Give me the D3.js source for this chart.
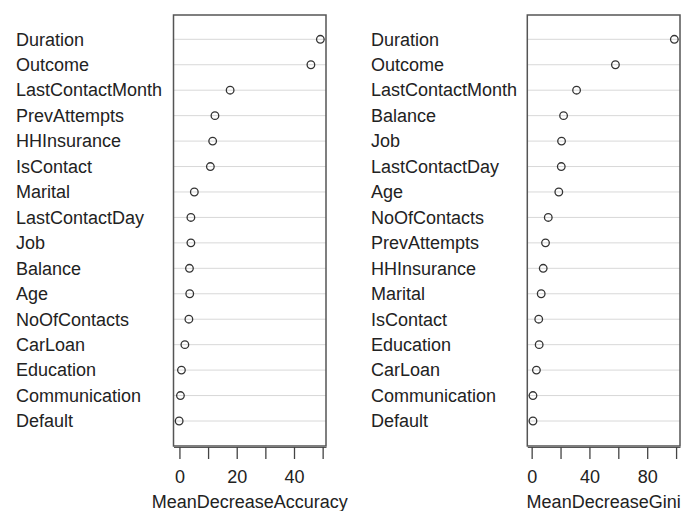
<!DOCTYPE html>
<meta charset="utf-8">
<style>
body { margin: 0; background: #fff; }
text { font-family: "Liberation Sans", Arial, sans-serif; fill: #222; }
</style>
<svg width="691" height="511"></svg>
<script src="https://d3js.org/d3.v7.min.js"></script>
<script>

// variable importance (top to bottom)
var accNames = ["Duration", "Outcome", "LastContactMonth", "PrevAttempts", "HHInsurance", "IsContact",
  "Marital", "LastContactDay", "Job", "Balance", "Age", "NoOfContacts", "CarLoan", "Education",
  "Communication", "Default"];
var accValues = [49.2, 45.9, 17.7, 12.4, 11.6, 10.8, 5.2, 4.0, 4.0, 3.5, 3.6, 3.3, 1.9, 0.7, 0.35, -0.1];

var giniNames = ["Duration", "Outcome", "LastContactMonth", "Balance", "Job", "LastContactDay", "Age",
  "NoOfContacts", "PrevAttempts", "HHInsurance", "Marital", "IsContact", "Education", "CarLoan",
  "Communication", "Default"];
var giniValues = [98.8, 58.0, 31.1, 22.1, 20.7, 20.5, 18.8, 11.5, 9.6, 8.0, 6.6, 4.9, 5.2, 3.3, 0.9, 0.9];

var accTicks = [0, 10, 20, 30, 40, 50], accLabels = [0, 20, 40];
var giniTicks = [0, 20, 40, 60, 80, 100], giniLabels = [0, 40, 80];

var svg = d3.select("svg");
var boxTop = 15, boxBottom = 446;

function panel(names, values, ticks, labels, title, textX, boxL, boxR) {
  var ext = d3.extent(values), pad = (ext[1] - ext[0]) * 0.04;
  var x = d3.scaleLinear().domain([ext[0] - pad, ext[1] + pad]).range([boxL, boxR]);
  var y = d3.scalePoint().domain(names).range([39.3, 421]);

  var g = svg.append("g");

  // light reference lines
  g.selectAll("line.grid").data(names).enter().append("line")
    .attr("x1", boxL).attr("x2", boxR)
    .attr("y1", function(d) { return y(d); })
    .attr("y2", function(d) { return y(d); })
    .attr("stroke", "#d8d8d8").attr("stroke-width", 1);

  g.append("rect")
    .attr("x", boxL).attr("y", boxTop)
    .attr("width", boxR - boxL).attr("height", boxBottom - boxTop)
    .attr("fill", "none").attr("stroke", "#555").attr("stroke-width", 1.5);

  g.selectAll("circle").data(values).enter().append("circle")
    .attr("cx", function(d) { return x(d); })
    .attr("cy", function(d, i) { return y(names[i]); })
    .attr("r", 3.8)
    .attr("fill", "none").attr("stroke", "#333").attr("stroke-width", 1.3);

  g.selectAll("text.lab").data(names).enter().append("text")
    .attr("x", textX).attr("y", function(d) { return y(d); })
    .attr("dy", "0.35em")
    .style("font-size", "18px")
    .text(function(d) { return d; });

  var axis = d3.axisBottom(x).tickValues(ticks).tickSize(12).tickSizeOuter(0)
    .tickFormat(function(d) { return labels.indexOf(d) >= 0 ? d : ""; });
  var ax = g.append("g").attr("transform", "translate(0," + (boxBottom + 1) + ")").call(axis);
  ax.select(".domain").attr("stroke", "#555");
  ax.selectAll(".tick line").attr("stroke", "#444").attr("stroke-width", 1.3);
  ax.selectAll(".tick text").attr("y", 23).style("font-size", "18px").attr("fill", "#222");

  g.append("text")
    .attr("x", (boxL + boxR) / 2).attr("y", 508)
    .attr("text-anchor", "middle")
    .style("font-size", "18px")
    .text(title);
}

panel(accNames, accValues, accTicks, accLabels, "MeanDecreaseAccuracy", 16, 173.5, 326);
panel(giniNames, giniValues, giniTicks, giniLabels, "MeanDecreaseGini", 371, 527.3, 680);

</script>
